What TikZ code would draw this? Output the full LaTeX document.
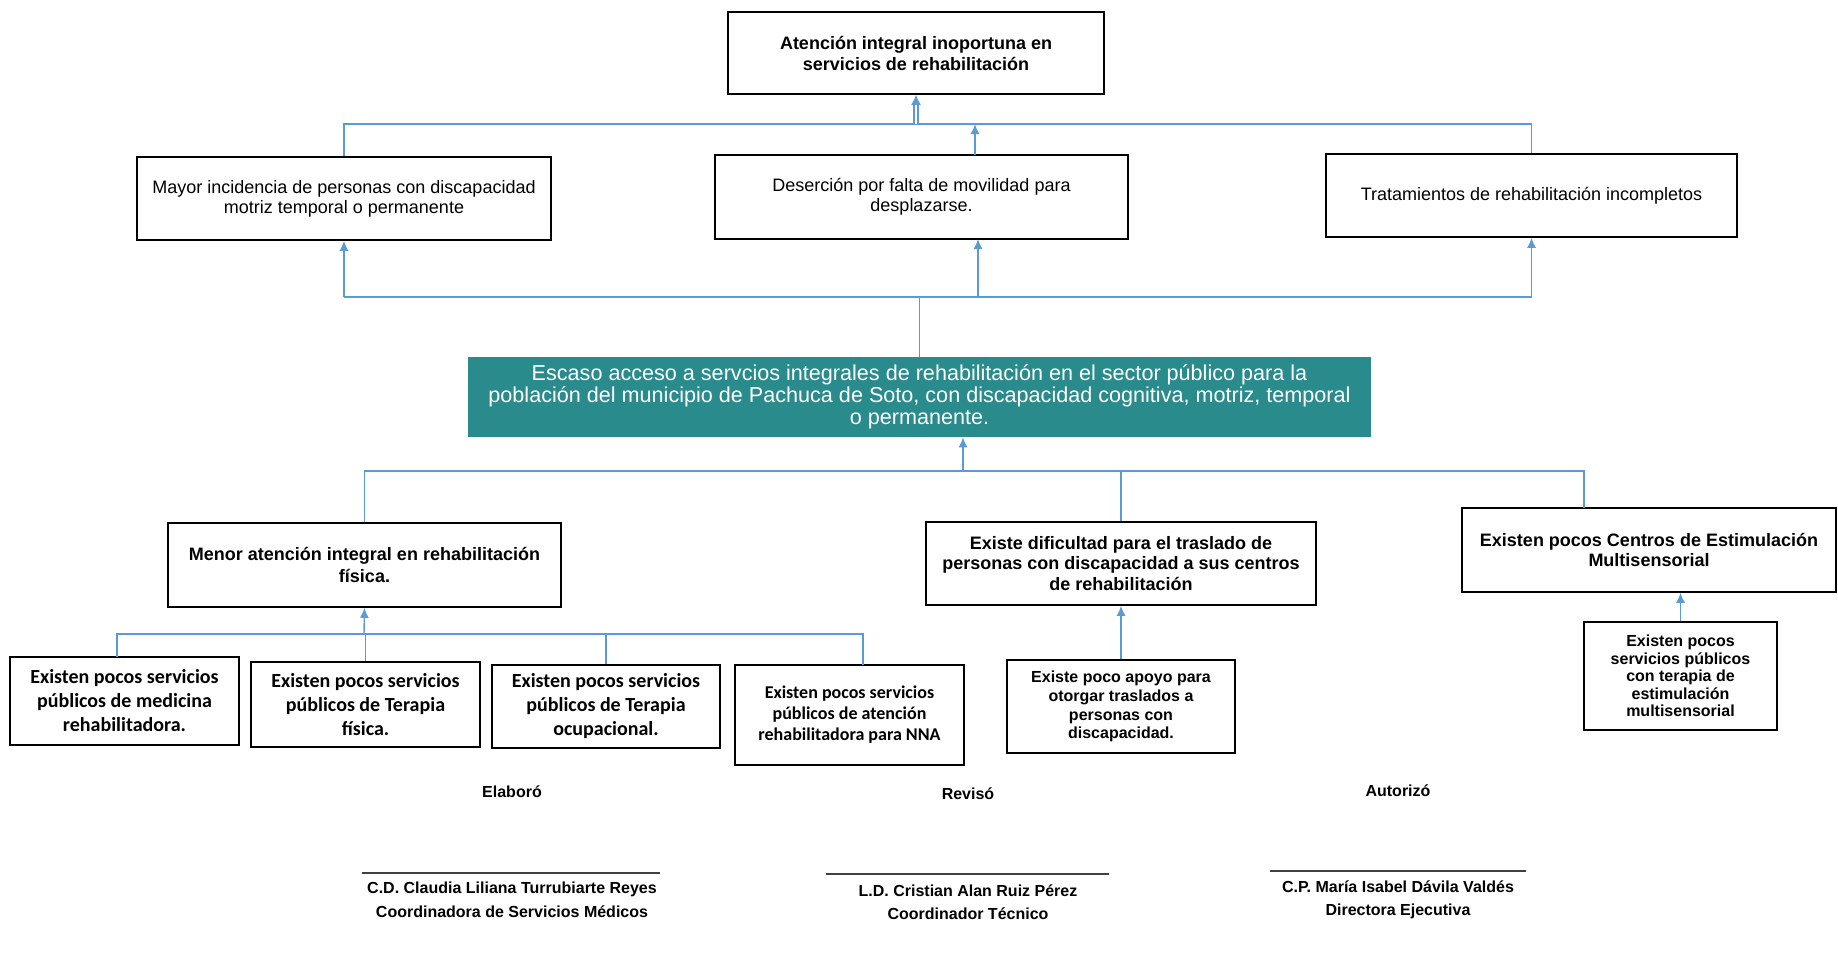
\documentclass[tikz,border=0pt]{standalone}
\usepackage{fontspec}
\setmainfont{Liberation Sans}
\newfontfamily\calibri{Carlito}
\usepackage{xcolor}
\usetikzlibrary{arrows.meta}
\definecolor{linkblue}{RGB}{91,155,213}
\definecolor{probteal}{RGB}{42,139,140}

\begin{document}
\begin{tikzpicture}[x=0.5pt,y=-0.5pt,
        box/.style={draw=black, line width=0.8pt, align=center, inner sep=0pt},
        link/.style={draw=linkblue, line width=0.7pt},
        up/.style={link, -{Latex[length=5pt,width=4.5pt]}},
        sign/.style={font=\bfseries\fontsize{8}{9}\selectfont, inner sep=0pt}]
        \useasboundingbox (0,0) rectangle (1838,953);

        % efectos
        \node[box, minimum width=188pt, minimum height=41pt,
            font=\bfseries\fontsize{9}{10.5}\selectfont] (efecto) at (916,53)
            {Atenci\'on integral inoportuna en\\servicios de rehabilitaci\'on};
        \node[box, minimum width=207pt, minimum height=41.5pt,
            font=\fontsize{9}{10}\selectfont] (mayor) at (344,198.5)
            {Mayor incidencia de personas con discapacidad\\motriz temporal o permanente};
        \node[box, minimum width=206.5pt, minimum height=42pt,
            font=\fontsize{9}{10}\selectfont] (desercion) at (921.5,197)
            {Deserci\'on por falta de movilidad para\\desplazarse.};
        \node[box, minimum width=205.5pt, minimum height=41.5pt,
            font=\fontsize{9}{10}\selectfont] (tratam) at (1531.5,195.5)
            {Tratamientos de rehabilitaci\'on incompletos};

        % problema central
        \node[fill=probteal, text=white, align=center, inner sep=0pt,
            minimum width=451.5pt, minimum height=40pt,
            font=\fontsize{10.8}{10.9}\selectfont] (central) at (919.5,397)
            {Escaso acceso a servcios integrales de rehabilitaci\'on en el sector p\'ublico para la\\
             poblaci\'on del municipio de Pachuca de Soto, con discapacidad cognitiva, motriz, temporal\\
             o permanente.};

        % causas
        \node[box, minimum width=196.5pt, minimum height=42pt,
            font=\bfseries\fontsize{9}{11}\selectfont] (menor) at (364.5,565)
            {Menor atenci\'on integral en rehabilitaci\'on\\f\'isica.};
        \node[box, minimum width=195pt, minimum height=41.5pt,
            font=\bfseries\fontsize{9}{10.3}\selectfont] (dificultad) at (1121,563.5)
            {Existe dificultad para el traslado de\\personas con discapacidad a sus centros\\de rehabilitaci\'on};
        \node[box, minimum width=187pt, minimum height=42pt,
            font=\bfseries\fontsize{9}{10}\selectfont] (centros) at (1649,550)
            {Existen pocos Centros de Estimulaci\'on\\Multisensorial};

        % subcausas
        \node[box, minimum width=114.5pt, minimum height=44pt,
            font=\calibri\bfseries\fontsize{10}{12}\selectfont] (medicina) at (124.5,701)
            {Existen pocos servicios\\p\'ublicos de medicina\\rehabilitadora.};
        \node[box, minimum width=114.5pt, minimum height=42.5pt,
            font=\calibri\bfseries\fontsize{10}{12}\selectfont] (fisica) at (365.5,704.5)
            {Existen pocos servicios\\p\'ublicos de Terapia\\f\'isica.};
        \node[box, minimum width=114pt, minimum height=41.5pt,
            font=\calibri\bfseries\fontsize{10}{12}\selectfont] (ocupacional) at (606,706.5)
            {Existen pocos servicios\\p\'ublicos de Terapia\\ocupacional.};
        \node[box, minimum width=114.5pt, minimum height=50pt,
            font=\calibri\bfseries\fontsize{9}{10.5}\selectfont] (nna) at (849.5,715)
            {Existen pocos servicios\\p\'ublicos de atenci\'on\\rehabilitadora para NNA};
        \node[box, minimum width=114pt, minimum height=46.5pt,
            font=\bfseries\fontsize{8}{9.4}\selectfont] (apoyo) at (1121,706.5)
            {Existe poco apoyo para\\otorgar traslados a\\personas con\\discapacidad.};
        \node[box, minimum width=96.5pt, minimum height=54pt,
            font=\bfseries\fontsize{8}{8.8}\selectfont] (multi) at (1680.5,676)
            {Existen pocos\\servicios p\'ublicos\\con terapia de\\estimulaci\'on\\multisensorial};

        % conectores arriba
        \coordinate (busA) at (916,124);
        \coordinate (desN) at (975,155);
        \draw[link] (mayor.north) |- (busA) -| (tratam.north);
        \draw[up] (desN) -- (desN |- busA);
        \draw[link, double, double distance=1.2pt, -{Latex[length=5pt,width=5pt]}] (busA) -- (efecto.south);

        \coordinate (busB) at (919,297);
        \coordinate (desS) at (978,239);
        \draw[link] (central.north) -- (central.north |- busB);
        \draw[link] (busB -| mayor.south) -- (busB -| tratam.south);
        \draw[up] (busB -| mayor.south) -- (mayor.south);
        \draw[up] (busB -| tratam.south) -- (tratam.south);
        \draw[up] (desS |- busB) -- (desS);

        % conectores abajo
        \coordinate (busC) at (963,471);
        \coordinate (cenN) at (1584,508);
        \draw[up] (busC) -- (busC |- central.south);
        \draw[link] (menor.north) |- (busC) -| (cenN);
        \draw[link] (dificultad.north) -- (dificultad.north |- busC);

        \coordinate (busD) at (364,634);
        \coordinate (medN) at (117,657);
        \coordinate (nnaN) at (863,665);
        \draw[up] (busD) -- (menor.south);
        \draw[link] (medN) |- (busD) -| (nnaN);
        \draw[link] (fisica.north) -- (fisica.north |- busD);
        \draw[link] (ocupacional.north) -- (ocupacional.north |- busD);
        \draw[up] (apoyo.north) -- (dificultad.south);
        \draw[up] (multi.north) -- (multi.north |- centros.south);

        % firmas
        \node[sign] (elaboro) at (512,792) {Elabor\'o};
        \node[sign] (reviso) at (968,794) {Revis\'o};
        \node[sign] (autorizo) at (1398,791) {Autoriz\'o};
        \node[sign] (nomA) at (512,889) {C.D. Claudia Liliana Turrubiarte Reyes};
        \node[sign] (nomB) at (968,891) {L.D. Cristian Alan Ruiz P\'erez};
        \node[sign] (nomC) at (1398,887) {C.P. Mar\'ia Isabel D\'avila Vald\'es};
        \node[sign] (carA) at (512,912) {Coordinadora de Servicios M\'edicos};
        \node[sign] (carB) at (968,914) {Coordinador T\'ecnico};
        \node[sign] (carC) at (1398,911) {Directora Ejecutiva};
        \coordinate (linA1) at (362,873);
        \coordinate (linA2) at (660,873);
        \coordinate (linB1) at (826,874);
        \coordinate (linB2) at (1109,874);
        \coordinate (linC1) at (1270,871);
        \coordinate (linC2) at (1526,871);
        \draw[line width=0.6pt, black!75] (linA1) -- (linA2);
        \draw[line width=0.6pt, black!75] (linB1) -- (linB2);
        \draw[line width=0.6pt, black!75] (linC1) -- (linC2);
\end{tikzpicture}
\end{document}
